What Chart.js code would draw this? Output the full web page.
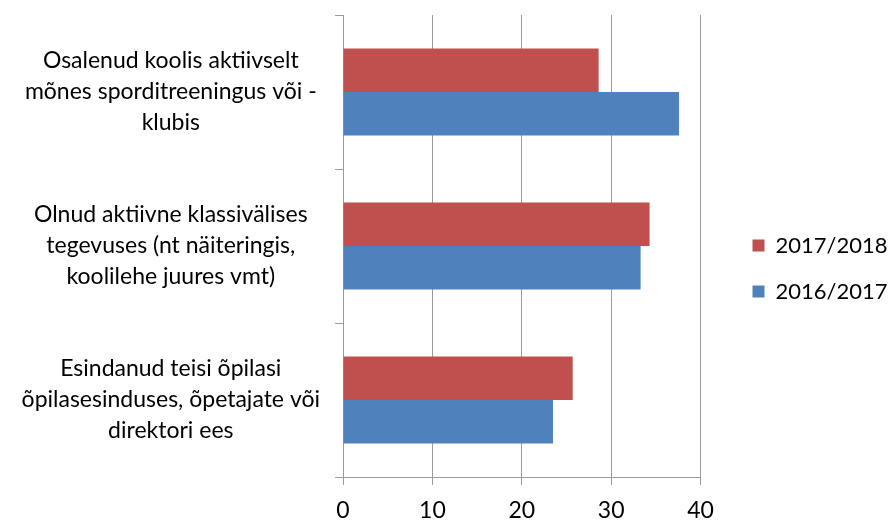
<!DOCTYPE html>
<html>
<head>
<meta charset="utf-8">
<script src="https://cdn.jsdelivr.net/npm/chart.js@4.4.1/dist/chart.umd.min.js"></script>
<style>
  html, body { margin: 0; padding: 0; background: #fff; overflow: hidden; }
  canvas { display: block; }
</style>
</head>
<body>
<canvas id="chart" width="891" height="522"></canvas>
<script>
// data
const categories = [
  ['Osalenud koolis aktiivselt', 'mõnes sporditreeningus või -', 'klubis'],
  ['Olnud aktiivne klassivälises', 'tegevuses (nt näiteringis,', 'koolilehe juures vmt)'],
  ['Esindanud teisi õpilasi', 'õpilasesinduses, õpetajate või', 'direktori ees']
];
const seriesNames = ['2017/2018', '2016/2017'];
const values1718 = [28.6, 34.3, 25.7];
const values1617 = [37.6, 33.3, 23.5];
const xTickValues = [0, 10, 20, 30, 40];

const gridGray = '#9a9a9a';
const font = 'Lato';

// legend box comes out a bit too narrow and clips the last digit
const widerLegend = {
  id: 'widerLegend',
  afterInit(chart) {
    const fit = chart.legend.fit;
    chart.legend.fit = function () {
      fit.call(this);
      this.width += 14;
    };
  }
};

function drawChart() {
  const ctx = document.getElementById('chart');

  new Chart(ctx, {
    type: 'bar',
    data: {
      labels: categories,
      datasets: [
        {
          label: seriesNames[0],
          data: values1718,
          backgroundColor: '#C0504D',
          borderWidth: 0
        },
        {
          label: seriesNames[1],
          data: values1617,
          backgroundColor: '#4F81BD',
          borderWidth: 0
        }
      ]
    },
    options: {
      indexAxis: 'y',
      responsive: false,
      animation: false,
      devicePixelRatio: 1,
      categoryPercentage: 0.565,
      barPercentage: 1,
      layout: {
        padding: { top: 15, right: 0, bottom: 0, left: 0 }
      },
      scales: {
        x: {
          min: xTickValues[0],
          max: xTickValues[xTickValues.length - 1],
          afterBuildTicks: (scale) => {
            scale.ticks = xTickValues.map(v => ({ value: v }));
          },
          afterFit: (scale) => {
            scale.height = 45;
            scale.paddingLeft = 0;
            scale.paddingRight = 0;
          },
          grid: {
            color: gridGray,
            lineWidth: 1,
            tickLength: 8
          },
          border: { display: true, color: gridGray },
          ticks: {
            color: '#000',
            padding: 12,
            font: { family: font, size: 23 }
          }
        },
        y: {
          afterFit: (scale) => {
            scale.width = 343;
            scale.paddingTop = 0;
            scale.paddingBottom = 0;
          },
          grid: {
            drawOnChartArea: false,
            color: gridGray,
            tickLength: 8,
            offset: true
          },
          border: { display: true, color: gridGray },
          ticks: {
            color: '#000',
            crossAlign: 'center',
            padding: 15,
            font: { family: font, size: 23, lineHeight: 1.35 }
          }
        },
        // empty axis, only keeps a gap between the plot and the legend
        spacer: {
          type: 'linear',
          position: 'right',
          display: true,
          afterFit: (scale) => {
            scale.width = 28;
            scale.paddingTop = 0;
            scale.paddingBottom = 0;
          },
          grid: { display: false },
          border: { display: false },
          ticks: { display: false }
        }
      },
      plugins: {
        legend: {
          position: 'right',
          labels: {
            color: '#000',
            boxWidth: 12,
            boxHeight: 12,
            padding: 24,
            font: { family: font, size: 22 }
          }
        },
        tooltip: { enabled: false }
      }
    },
    plugins: [widerLegend]
  });
}

Promise.all([
  document.fonts.load('22px Lato'),
  document.fonts.load('23px Lato')
]).then(drawChart, drawChart);
</script>
</body>
</html>
